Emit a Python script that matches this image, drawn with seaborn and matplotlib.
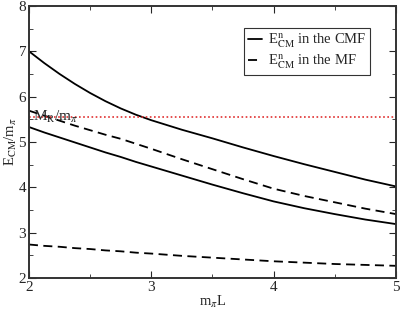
import matplotlib
matplotlib.use("Agg")
import matplotlib.pyplot as plt
import pandas as pd
import seaborn as sb
from matplotlib.lines import Line2D
from matplotlib.ticker import MultipleLocator

# values
mL = [2.0, 2.125, 2.25, 2.375, 2.5, 2.625, 2.75, 2.875, 3.0,
      3.25, 3.5, 3.75, 4.0, 4.25, 4.5, 4.75, 5.0]
cmf_upper = [7.00, 6.74, 6.50, 6.28, 6.08, 5.90, 5.74, 5.60, 5.48,
             5.27, 5.08, 4.88, 4.69, 4.51, 4.34, 4.17, 4.02]
cmf_lower = [5.33, 5.21, 5.10, 4.99, 4.88, 4.77, 4.67, 4.56, 4.46,
             4.26, 4.06, 3.87, 3.69, 3.54, 3.41, 3.29, 3.19]
mf_upper = [5.69, 5.58, 5.47, 5.36, 5.26, 5.16, 5.07, 4.96, 4.85,
            4.62, 4.40, 4.18, 3.97, 3.81, 3.67, 3.53, 3.41]
mf_lower = [2.74, 2.71, 2.69, 2.66, 2.64, 2.61, 2.59, 2.56, 2.54,
            2.49, 2.45, 2.41, 2.37, 2.34, 2.31, 2.29, 2.27]
mr_ratio = 5.55

curves = {
    ("CMF", "upper"): cmf_upper,
    ("CMF", "lower"): cmf_lower,
    ("MF", "upper"): mf_upper,
    ("MF", "lower"): mf_lower,
}
rows = []
for (frame, level), vals in curves.items():
    for x, y in zip(mL, vals):
        rows.append({"mL": x, "E": y, "frame": frame, "level": level})
df = pd.DataFrame(rows)

sb.set_style("ticks")
plt.rcParams["font.family"] = ["Liberation Serif", "DejaVu Serif"]
plt.rcParams["mathtext.fontset"] = "stix"

fig = plt.figure(figsize=(4.02, 3.10), dpi=100)
ax = fig.add_axes([0.072, 0.103, 0.913, 0.878])

dash = (5, 3)
for (frame, level), sub in df.groupby(["frame", "level"]):
    sb.lineplot(
        data=sub, x="mL", y="E", ax=ax, color="black", linewidth=1.3,
        estimator=None, sort=True, legend=False,
        linestyle="-" if frame == "CMF" else "--",
    )
for line in ax.get_lines():
    if line.get_linestyle() == "--":
        line.set_dashes(dash)

ax.axhline(mr_ratio, color="#e03030", linestyle=(0, (1, 1.5)), linewidth=1.2)
ax.text(2.03, mr_ratio, r"M$_{\rm R}$/m$_\pi$", fontsize=11, va="center", ha="left")

ax.set_xlim(2, 5)
ax.set_ylim(2, 8)
ax.xaxis.set_major_locator(MultipleLocator(1))
ax.xaxis.set_minor_locator(MultipleLocator(0.5))
ax.yaxis.set_major_locator(MultipleLocator(1))
ax.yaxis.set_minor_locator(MultipleLocator(0.5))
ax.tick_params(which="both", direction="in", top=True, right=True, labelsize=11, pad=2)
ax.tick_params(which="major", length=5)
ax.tick_params(which="minor", length=3)
for spine in ax.spines.values():
    spine.set_linewidth(1.4)
    spine.set_color("#333333")

ax.set_xlabel(r"m$_\pi$L", fontsize=10.5, labelpad=0)
ax.set_ylabel(r"E$_{\rm CM}$/m$_\pi$", fontsize=10.5, labelpad=0)

handles = [
    Line2D([], [], color="black", linewidth=1.3, linestyle="-"),
    Line2D([], [], color="black", linewidth=1.3, dashes=dash),
]
labels = [r"E$^{\rm n}_{\rm CM}$ in the CMF", r"E$^{\rm n}_{\rm CM}$ in the MF"]
leg = ax.legend(handles, labels, loc="upper right", bbox_to_anchor=(0.93, 0.92),
                fontsize=10.5, frameon=True, fancybox=False, handlelength=1.0,
                handletextpad=0.4, borderpad=0.25, labelspacing=0.15, borderaxespad=0)
leg.get_frame().set_edgecolor("black")
leg.get_frame().set_linewidth(0.8)

fig.savefig("out.png", dpi=100)
